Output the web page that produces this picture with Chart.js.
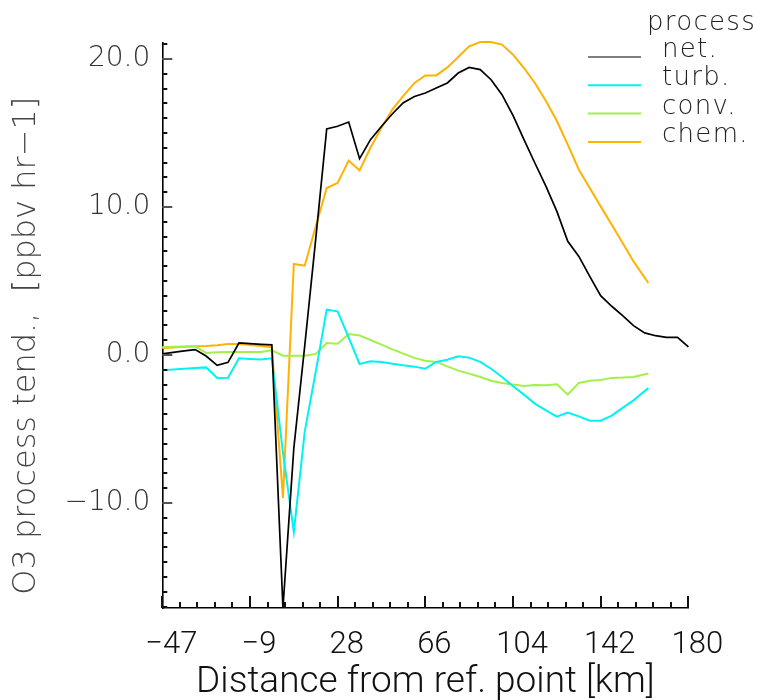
<!DOCTYPE html>
<html>
<head>
<meta charset="utf-8">
<script src="https://cdn.jsdelivr.net/npm/chart.js@4.4.1/dist/chart.umd.min.js"></script>
<style>
  html, body { margin: 0; padding: 0; background: #fff; }
</style>
</head>
<body>
<canvas id="o3Chart" width="762" height="700"></canvas>
<script>
// distance along the section (km), one value per grid column
const distance = [-47.2, -42.5, -37.7, -33.0, -28.3, -23.5, -18.8, -14.1, -9.3, -4.6,
  0.1, 4.9, 9.6, 14.3, 19.1, 23.8, 28.5, 33.3, 38.0, 42.7,
  47.5, 52.2, 56.9, 61.7, 66.4, 71.1, 75.9, 80.6, 85.3, 90.1,
  94.8, 99.5, 104.3, 109.0, 113.7, 118.5, 123.2, 127.9, 132.7, 137.4,
  142.1, 146.9, 151.6, 156.3, 161.1, 165.8, 170.5, 175.3, 180.0];
// turb / conv / chem stop a bit earlier
const procDistance = [-47.2, -42.5, -37.7, -33.0, -28.3, -23.5, -18.8, -14.1, -9.3, -4.6,
  0.1, 4.9, 9.6, 14.3, 19.1, 23.8, 28.5, 33.3, 38.0, 42.7,
  47.5, 52.2, 56.9, 61.7, 66.4, 71.1, 75.9, 80.6, 85.3, 90.1,
  94.8, 99.5, 104.3, 109.0, 113.7, 118.5, 123.2, 127.9, 132.7, 137.4,
  142.1, 146.9, 151.6, 156.3, 162.7];

const netData = [0.07, 0.17, 0.27, 0.36, -0.07, -0.7, -0.5, 0.81, 0.77, 0.72,
  0.68, -17.1, -6.3, 0.6, 7.9, 15.27, 15.45, 15.74, 13.26, 14.55,
  15.45, 16.3, 17.05, 17.47, 17.7, 18.04, 18.38, 19.05, 19.43, 19.28,
  18.6, 17.59, 16.17, 14.55, 12.97, 11.39, 9.7, 7.68, 6.66, 5.31,
  4.01, 3.29, 2.66, 1.98, 1.49, 1.3, 1.19, 1.19, 0.54];
const turbData = [-1.04, -0.99, -0.94, -0.89, -0.84, -1.56, -1.54, -0.23, -0.27, -0.3,
  -0.23, -6.6, -11.96, -5.2, -1.1, 3.06, 2.95, 1.17, -0.61, -0.43,
  -0.47, -0.59, -0.7, -0.79, -0.93, -0.47, -0.32, -0.09, -0.18, -0.47,
  -0.93, -1.49, -2.12, -2.68, -3.29, -3.74, -4.17, -3.9, -4.15, -4.44,
  -4.44, -4.1, -3.58, -3.07, -2.23];
const convData = [0.54, 0.55, 0.57, 0.58, 0.14, 0.18, 0.2, 0.2, 0.2, 0.2,
  0.31, -0.05, -0.05, -0.05, 0.07, 0.81, 0.76, 1.42, 1.32, 1.01,
  0.7, 0.38, 0.09, -0.2, -0.39, -0.47, -0.77, -1.06, -1.26, -1.49,
  -1.74, -1.89, -2.0, -2.09, -2.03, -2.05, -1.98, -2.68, -1.89, -1.74,
  -1.69, -1.55, -1.53, -1.49, -1.26];
const chemData = [0.47, 0.5, 0.55, 0.58, 0.6, 0.65, 0.74, 0.74, 0.68, 0.6,
  0.52, -9.66, 6.15, 6.03, 8.69, 11.28, 11.62, 13.13, 12.47, 14.0,
  15.37, 16.6, 17.5, 18.38, 18.89, 18.89, 19.43, 20.13, 20.85, 21.15,
  21.15, 20.97, 20.29, 19.39, 18.38, 17.16, 15.81, 14.21, 12.52, 11.28,
  10.04, 8.8, 7.57, 6.32, 4.86];

const seriesNames = ['net.', 'turb.', 'conv.', 'chem.'];
const seriesColors = ['#000000', '#00f2f2', '#a2f04c', '#ffb300'];
const legendTitle = 'process';

const xTickLabels = ['\u221247', '\u22129', '28', '66', '104', '142', '180'];
const xRange = [-47.2, 180];
const yTickValues = [-10, 0, 10, 20];
const yRange = [-17.1, 21.1];

const thinFont = '"DejaVu Sans", sans-serif';
const narrowFont = 'Roboto, "Liberation Sans", sans-serif';

function toPoints(xs, ys) {
  return ys.map((v, i) => ({ x: xs[i], y: v }));
}

// inward tick marks, IDL style (5 minor per major on x, one per unit on y)
const axisTicks = {
  id: 'axisTicks',
  afterDatasetsDraw(chart) {
    const c = chart.ctx;
    const xs = chart.scales.x, ys = chart.scales.y;
    const left = ys.right, bottom = xs.top;
    c.save();
    c.fillStyle = '#111';
    const nMajor = xTickLabels.length - 1;
    const step = (xRange[1] - xRange[0]) / nMajor / 5;
    for (let k = 0; k <= nMajor * 5; k++) {
      const px = Math.round(xs.getPixelForValue(xRange[0] + k * step));
      const len = k % 5 === 0 ? 12 : 6;
      c.fillRect(px - 1, bottom - len, 2, len);
    }
    for (let v = Math.ceil(yRange[0]); v <= yRange[1]; v++) {
      const py = Math.round(ys.getPixelForValue(v));
      const len = v % 10 === 0 ? 10 : 5;
      c.fillStyle = v % 10 === 0 ? '#555' : '#111';
      c.fillRect(left, py - 1, len, 2);
    }
    c.restore();
  }
};

// legend in the upper right corner
const processLegend = {
  id: 'processLegend',
  afterDraw(chart) {
    const c = chart.ctx;
    c.save();
    c.font = '200 26px ' + thinFont;
    c.letterSpacing = '1.3px';
    c.fillStyle = '#222';
    c.textBaseline = 'alphabetic';
    c.fillText(legendTitle, 647, 30);
    chart.data.datasets.forEach((ds, k) => {
      const yy = 57 + k * 28.3;
      c.strokeStyle = ds.borderColor;
      c.lineWidth = k === 0 ? 1.2 : 2;
      c.beginPath();
      c.moveTo(588, yy);
      c.lineTo(641, yy);
      c.stroke();
      c.fillText(ds.label, 662, yy);
    });
    c.restore();
  }
};

const ctx = document.getElementById('o3Chart').getContext('2d');
const o3Chart = new Chart(ctx, {
  type: 'line',
  data: {
    datasets: [
      { label: seriesNames[0], data: toPoints(distance, netData), borderColor: seriesColors[0], borderWidth: 1.7 },
      { label: seriesNames[1], data: toPoints(procDistance, turbData), borderColor: seriesColors[1], borderWidth: 2 },
      { label: seriesNames[2], data: toPoints(procDistance, convData), borderColor: seriesColors[2], borderWidth: 2 },
      { label: seriesNames[3], data: toPoints(procDistance, chemData), borderColor: seriesColors[3], borderWidth: 2 }
    ]
  },
  options: {
    responsive: false,
    animation: false,
    devicePixelRatio: 1,
    layout: { padding: { left: 0, top: 42.7, right: 73.6, bottom: 0 } },
    elements: { point: { radius: 0 }, line: { tension: 0, fill: false } },
    datasets: { line: { clip: false } },
    plugins: { legend: { display: false }, tooltip: { enabled: false } },
    scales: {
      x: {
        type: 'linear',
        min: xRange[0],
        max: xRange[1],
        afterBuildTicks: (scale) => {
          const n = xTickLabels.length - 1;
          scale.ticks = xTickLabels.map((lab, k) => ({ value: xRange[0] + k * (xRange[1] - xRange[0]) / n }));
        },
        afterFit: (scale) => { scale.height = 92; },
        grid: { display: false, drawTicks: false },
        border: { display: true, color: '#000', width: 1.6 },
        ticks: {
          autoSkip: false,
          maxRotation: 0,
          padding: 19,
          labelOffset: 9,
          color: '#111',
          font: { family: narrowFont, size: 31, weight: '300' },
          callback: (value, index) => xTickLabels[index]
        },
        title: {
          display: true,
          text: 'Distance from ref. point [km]',
          color: '#111',
          padding: { top: 0, bottom: 0 },
          font: { family: narrowFont, size: 37, weight: '300', lineHeight: 0.95 }
        }
      },
      y: {
        type: 'linear',
        min: yRange[0],
        max: yRange[1],
        afterBuildTicks: (scale) => {
          scale.ticks = yTickValues.map(v => ({ value: v }));
        },
        afterFit: (scale) => { scale.width = 162.3; },
        grid: { display: false, drawTicks: false },
        border: { display: true, color: '#000', width: 1.6 },
        ticks: {
          padding: 12,
          color: '#333',
          font: { family: thinFont, size: 28, weight: '200' },
          callback: (v) => (v < 0 ? '\u2212' : '') + Math.abs(v).toFixed(1)
        },
        title: {
          display: true,
          text: 'O3 process tend.,  [ppbv hr\u22121]\u00a0\u00a0\u00a0\u00a0',
          color: '#444',
          padding: { top: 11, bottom: 0 },
          font: { family: thinFont, size: 32, weight: '200', lineHeight: 1 }
        }
      }
    }
  },
  plugins: [axisTicks, processLegend]
});
</script>
</body>
</html>
